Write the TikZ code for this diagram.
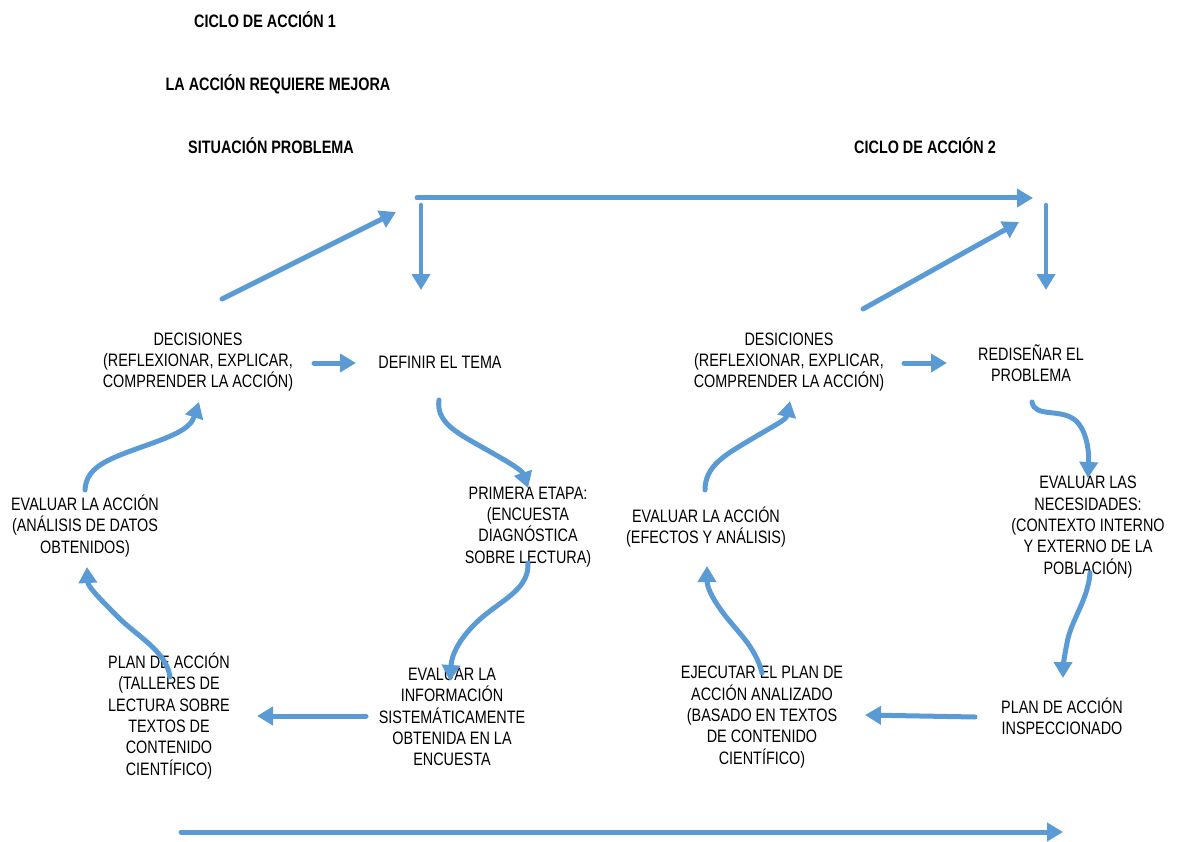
\documentclass[tikz,border=0pt]{standalone}
\usepackage{fontspec}
\setmainfont[FakeStretch=0.8]{Liberation Sans}
\usetikzlibrary{arrows.meta}
\definecolor{arrowblue}{HTML}{5B9BD5}
\begin{document}
\begin{tikzpicture}[x=1pt,y=-1pt,
  txt/.style={align=center,inner sep=0pt,font=\fontsize{18}{21.3}\selectfont},
  ttl/.style={inner sep=0pt,font=\fontsize{18}{21.3}\selectfont\bfseries},
  flow/.style={draw=arrowblue,line width=5pt,line cap=round,
    -{Triangle[length=16pt,width=18pt]}},
  flowthin/.style={flow,line width=4.5pt}]
\useasboundingbox (0,0) rectangle (1177,842);

% titles
\node[ttl] (t1) at (265,20) {CICLO DE ACCIÓN 1};
\node[ttl] (t2) at (278,84) {LA ACCIÓN REQUIERE MEJORA};
\node[ttl] (t3) at (271,146) {SITUACIÓN PROBLEMA};
\node[ttl] (t4) at (925,146) {CICLO DE ACCIÓN 2};

% cycle 1 texts
\node[txt] (dec1) at (198,362) {DECISIONES\\(REFLEXIONAR, EXPLICAR,\\COMPRENDER LA ACCIÓN)};
\node[txt] (def) at (440,362) {DEFINIR EL TEMA};
\node[txt] (prim) at (528,527) {PRIMERA ETAPA:\\(ENCUESTA\\DIAGNÓSTICA\\SOBRE LECTURA)};
\node[txt] (evinf) at (452,717) {EVALUAR LA\\INFORMACIÓN\\SISTEMÁTICAMENTE\\OBTENIDA EN LA\\ENCUESTA};
\node[txt] (plan1) at (169,716) {PLAN DE ACCIÓN\\(TALLERES DE\\LECTURA SOBRE\\TEXTOS DE\\CONTENIDO\\CIENTÍFICO)};
\node[txt] (ev1) at (85,526) {EVALUAR LA ACCIÓN\\(ANÁLISIS DE DATOS\\OBTENIDOS)};

% cycle 2 texts
\node[txt] (dec2) at (789,362) {DESICIONES\\(REFLEXIONAR, EXPLICAR,\\COMPRENDER LA ACCIÓN)};
\node[txt] (red) at (1031,363) {REDISEÑAR EL\\PROBLEMA};
\node[txt] (evnec) at (1088,527) {EVALUAR LAS\\NECESIDADES:\\(CONTEXTO INTERNO\\Y EXTERNO DE LA\\POBLACIÓN)};
\node[txt] (plan2) at (1062,716) {PLAN DE ACCIÓN\\INSPECCIONADO};
\node[txt] (ejec) at (762,717) {EJECUTAR EL PLAN DE\\ACCIÓN ANALIZADO\\(BASADO EN TEXTOS\\DE CONTENIDO\\CIENTÍFICO)};
\node[txt] (ev2) at (706,527) {EVALUAR LA ACCIÓN\\(EFECTOS Y ANÁLISIS)};

% coordinates for arrow ends
\coordinate (topL) at (417,198);
\coordinate (topR) at (1033,198);
\coordinate (d1s) at (421,205);
\coordinate (d1e) at (421,290);
\coordinate (d2s) at (1046,205);
\coordinate (d2e) at (1046,290);
\coordinate (g1s) at (222,299);
\coordinate (g1e) at (396,212);
\coordinate (g2s) at (863,309);
\coordinate (g2e) at (1019,222);
\coordinate (h1s) at (314,363);
\coordinate (h1e) at (356,363);
\coordinate (h2s) at (904,363);
\coordinate (h2e) at (947,363);
\coordinate (h3s) at (366,716);
\coordinate (h3e) at (257,716);
\coordinate (h4s) at (975,717);
\coordinate (h4e) at (865,715);
\coordinate (botL) at (181,832);
\coordinate (botR) at (1063,832);

% straight arrows
\draw[flow] (topL) -- (topR);
\draw[flowthin] (d1s) -- (d1e);
\draw[flowthin] (d2s) -- (d2e);
\draw[flow] (g1s) -- (g1e);
\draw[flow] (g2s) -- (g2e);
\draw[flow] (h1s) -- (h1e);
\draw[flow] (h2s) -- (h2e);
\draw[flow] (h3s) -- (h3e);
\draw[flow] (h4s) -- (h4e);
\draw[flow] (botL) -- (botR);

% curved arrows, cycle 1
\coordinate (c1s) at (439,400); \coordinate (c1e) at (528,488);
\draw[flow] (c1s) .. controls (436,421) and (455,432) .. (480,446)
  .. controls (505,460) and (522,470) .. (c1e);
\coordinate (c2s) at (528,563); \coordinate (c2e) at (450,681);
\draw[flow] (c2s) .. controls (529,585) and (510,596) .. (490,611)
  .. controls (466,629) and (452,650) .. (c2e);
\coordinate (c3s) at (170,677); \coordinate (c3e) at (87,567);
\draw[flow] (c3s) .. controls (166,650) and (136,636) .. (116,615)
  .. controls (96,595) and (88,586) .. (c3e);
\coordinate (c4s) at (85,490); \coordinate (c4e) at (199,402);
\draw[flow] (c4s) .. controls (86,468) and (106,460) .. (136,449)
  .. controls (170,437) and (190,430) .. (c4e);

% curved arrows, cycle 2
\coordinate (c5s) at (1032,402); \coordinate (c5e) at (1088,478);
\draw[flow] (c5s) .. controls (1035,418) and (1060,408) .. (1075,420)
  .. controls (1088,431) and (1089,455) .. (c5e);
\coordinate (c6s) at (1090,573); \coordinate (c6e) at (1063,678);
\draw[flow] (c6s) .. controls (1088,600) and (1071,620) .. (1067,643)
  .. controls (1064,658) and (1063,668) .. (c6e);
\coordinate (c7s) at (762,673); \coordinate (c7e) at (707,566);
\draw[flow] (c7s) .. controls (755,645) and (735,630) .. (721,610)
  .. controls (710,595) and (707,585) .. (c7e);
\coordinate (c8s) at (705,490); \coordinate (c8e) at (790,401);
\draw[flow] (c8s) .. controls (705,466) and (725,455) .. (750,440)
  .. controls (775,425) and (786,420) .. (c8e);
\end{tikzpicture}
\end{document}
